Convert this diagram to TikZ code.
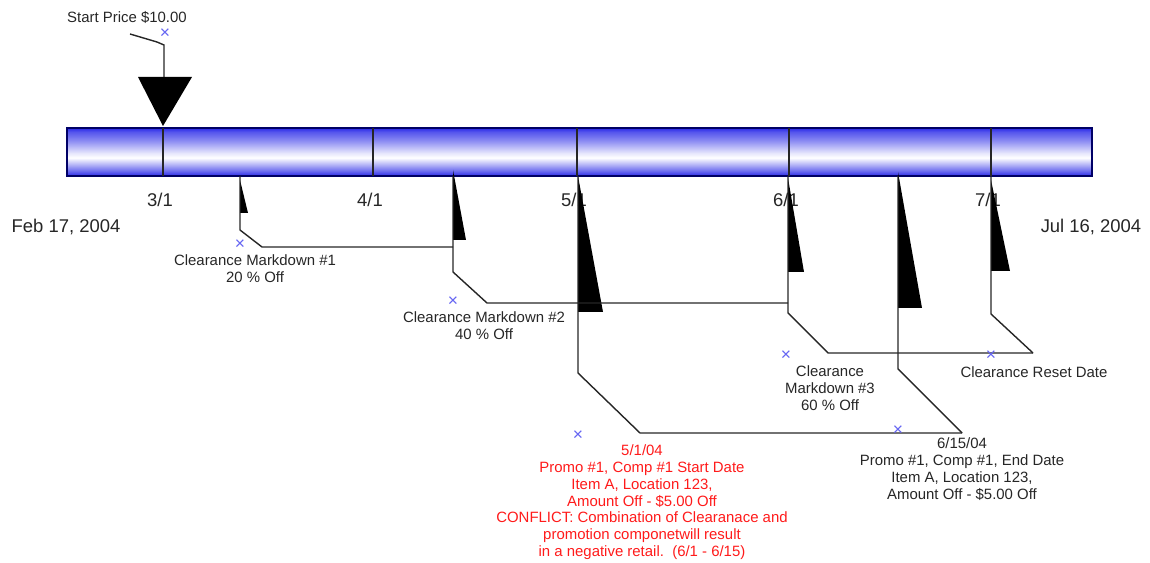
\documentclass[tikz,border=0pt]{standalone}
\usepackage{fontspec}
\setmainfont{Liberation Sans}
\usetikzlibrary{positioning, calc}
\definecolor{barblue}{HTML}{2A2AE8}
\definecolor{markblue}{HTML}{6464F2}
\definecolor{conflict}{HTML}{FF1A1A}
\pgfdeclareverticalshading{barshade}{100bp}{color(0bp)=(barblue); color(25bp)=(barblue); color(31bp)=(barblue!65!white); color(44bp)=(white); color(49bp)=(white!88!barblue); color(62bp)=(barblue!55!white); color(71bp)=(barblue!80!white); color(75bp)=(barblue); color(100bp)=(barblue)}

\begin{document}
\begin{tikzpicture}[x=0.02cm, y=-0.02cm, line width=0.8pt]
    \tikzstyle{datelbl} = [font=\fontsize{10.5}{12}\selectfont, inner sep=0pt, text=black!85]
    \tikzstyle{note} = [font=\fontsize{8.5}{9.6}\selectfont, align=center, inner sep=0pt, text=black!85]
    \tikzstyle{redNote} = [note, text=conflict]
    \tikzstyle{xmark} = [font=\fontsize{10}{10}\selectfont, inner sep=0pt, text=markblue]
    \tikzstyle{leader} = [draw=black!85, line width=0.8pt]

    \useasboundingbox (0,0) rectangle (1150,563);

    % timeline bar
    \shade[shading=barshade] (67,128) rectangle (1092,176);
    \draw[draw=black!60!blue] (67,128) rectangle (1092,176);
    \foreach \x in {163,373,577,789,991}
        \draw[black!85] (\x,128) -- (\x,176);

    % month labels
    \node [datelbl] (m3) at (160,200) {3/1};
    \node [datelbl] (m4) at (370,200) {4/1};
    \node [datelbl] (m5) at (574,200) {5/1};
    \node [datelbl] (m6) at (786,200) {6/1};
    \node [datelbl] (m7) at (988,200) {7/1};
    \node [datelbl] (first) at (66,227) {Feb 17, 2004};
    \node [datelbl] (last) at (1091,227) {Jul 16, 2004};

    % start price
    \node [note] (start) at (127,17) {Start Price \$10.00};
    \node [xmark] (startx) at (165,34) {×};
    \coordinate (sp0) at (130,34);
    \coordinate (sp1) at (164,77);
    \path [leader] (sp0) -- (157,42) -- (164,45) -- (sp1);
    \fill [black] (138,77) -- (192,77) -- (163,126) -- cycle;

    % markers on the bar
    \coordinate (cm1) at (240,176);
    \coordinate (cm2) at (453,176);
    \coordinate (ps) at (578,176);
    \coordinate (cm3) at (788,176);
    \coordinate (pe) at (898,176);
    \coordinate (cr) at (991,176);

    \foreach \x/\t/\b/\w in {240/180/213/248, 453/170/240/466, 578/176/312/603, 788/178/272/804, 898/172/308/922, 991/180/271/1010}
        \fill [black] (\x,\t) -- (\x,\b) -- (\w,\b) -- cycle;

    % knees
    \coordinate (cm1k) at (262,247);
    \coordinate (cm2k) at (487,303);
    \coordinate (psk) at (640,433);
    \coordinate (cm3k) at (828,353);
    \coordinate (pek) at (962,433);
    \coordinate (crk) at (1033,353);

    \path [leader] (cm1) -- (240,230) -- (cm1k) -- (cm1k -| cm2);
    \path [leader] (cm2) -- (453,272) -- (cm2k) -- (cm2k -| cm3);
    \path [leader] (ps) -- (578,373) -- (psk) -- (pek);
    \path [leader] (cm3) -- (788,313) -- (cm3k) -- (crk);
    \path [leader] (pe) -- (898,369) -- (pek);
    \path [leader] (cr) -- (991,314) -- (crk);

    % blue marks
    \node [xmark] (x1) at (240,245) {×};
    \node [xmark] (x2) at (453,302) {×};
    \node [xmark] (x3) at (786,356) {×};
    \node [xmark] (x4) at (991,356) {×};
    \node [xmark] (x5) at (578,436) {×};
    \node [xmark] (x6) at (898,431) {×};

    % labels
    \node [note, anchor=north] (l1) at (255,254) {Clearance Markdown \#1\\20 \% Off};
    \node [note, anchor=north] (l2) at (484,311) {Clearance Markdown \#2\\40 \% Off};
    \node [note, anchor=north] (l3) at (830,365) {Clearance\\Markdown \#3\\60 \% Off};
    \node [note, anchor=north] (l4) at (1034,366) {Clearance Reset Date};
    \node [redNote, anchor=north] (l5) at (642,444) {5/1/04\\Promo \#1, Comp \#1 Start Date\\Item A, Location 123,\\Amount Off - \$5.00 Off\\CONFLICT: Combination of Clearanace and\\promotion componetwill result\\in a negative retail.\ \ (6/1 - 6/15)};
    \node [note, anchor=north] (l6) at (962,437) {6/15/04\\Promo \#1, Comp \#1, End Date\\Item A, Location 123,\\Amount Off - \$5.00 Off};
\end{tikzpicture}
\end{document}
